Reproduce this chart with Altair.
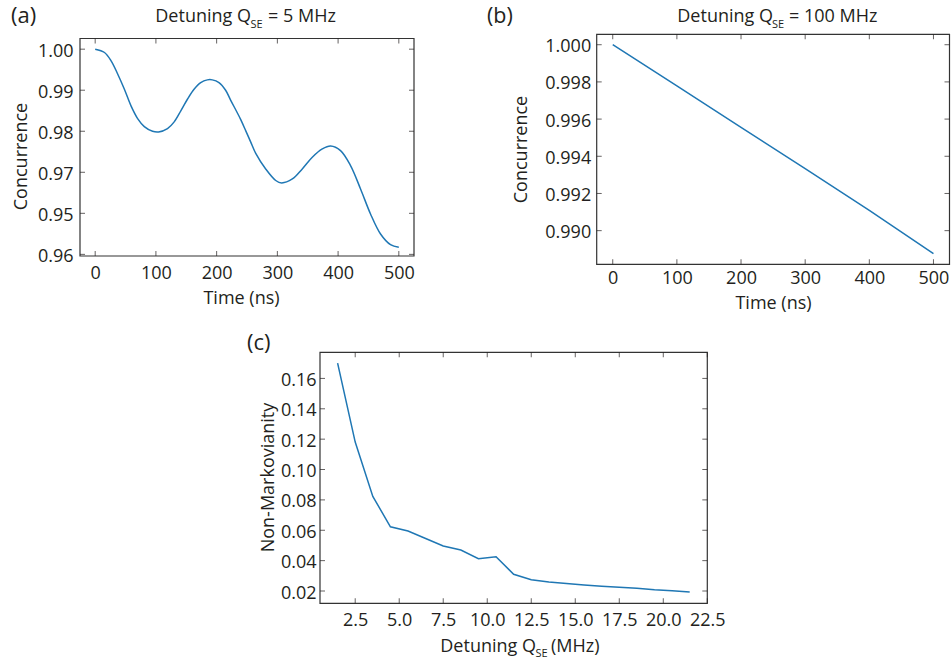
import altair as alt
import pandas as pd

# ---------------- data ----------------
# (a) Detuning Q_SE = 5 MHz
a_time = [0, 15.3, 26.2, 37.2, 48.1, 59.0, 69.9, 80.9, 94.5, 104.4,
          119.1, 130.1, 141.0, 151.9, 162.8, 173.8, 184.7, 192.9, 203.8, 214.8,
          223.0, 239.5, 248.0, 256.0, 264.4, 280.8, 297.3, 307.0, 324.7, 341.0,
          357.5, 374.0, 387.7, 404.0, 420.5, 437.0, 453.4, 469.9, 486.3, 500.0]
a_conc = [1.0, 0.99919, 0.99715, 0.99390, 0.99024, 0.98618, 0.98309, 0.98114, 0.98000, 0.97984,
          0.98065, 0.98228, 0.98496, 0.98780, 0.99024, 0.99187, 0.99252, 0.99252, 0.99187, 0.99000,
          0.98760, 0.98290, 0.98010, 0.97740, 0.97460, 0.97080, 0.96800, 0.96740, 0.96837, 0.97081,
          0.97366, 0.97569, 0.97642, 0.97528, 0.97163, 0.96593, 0.95984, 0.95496, 0.95236, 0.95171]
a_xticks = [0, 100, 200, 300, 400, 500]
a_yticks = [1.00, 0.99, 0.98, 0.97, 0.96, 0.95]
a_ylabels = ["1.00", "0.99", "0.98", "0.97", "0.95", "0.96"]

# (b) Detuning Q_SE = 100 MHz
b_time = [0, 100, 200, 300, 400, 500]
b_conc = [1.0, 0.99779, 0.99555, 0.99334, 0.99109, 0.98877]
b_xticks = [0, 100, 200, 300, 400, 500]
b_yticks = [1.000, 0.998, 0.996, 0.994, 0.992, 0.990]

# (c) Non-Markovianity vs detuning
c_det = [1.5, 2.5, 3.5, 4.5, 5.5, 6.5, 7.5, 8.5, 9.5, 10.5, 11.5, 12.5, 13.5,
         14.5, 15.5, 16.5, 17.5, 18.5, 19.5, 20.5, 21.5]
c_nm = [0.1701, 0.1181, 0.0823, 0.0623, 0.0595, 0.0546, 0.0496, 0.0470, 0.0413,
        0.0426, 0.0310, 0.0274, 0.0260, 0.0250, 0.0240, 0.0232, 0.0225, 0.0218,
        0.0208, 0.0201, 0.0194]
c_xticks = [2.5, 5.0, 7.5, 10.0, 12.5, 15.0, 17.5, 20.0, 22.5]
c_yticks = [0.02, 0.04, 0.06, 0.08, 0.10, 0.12, 0.14, 0.16]

# ---------------- style ----------------
W, H = 951, 663
INK = "#231f20"
FRAME = "#333333"
BLUE = "#1f77b4"
FONT = "Open Sans"
TICK = 5


def xaxis(bottom, values, fmt, pad, title, tx=0, ty=0):
    kw = dict(orient="bottom", offset=-(H - bottom), values=values, format=fmt,
              labelPadding=pad, labelBaseline="alphabetic", ticks=False,
              domain=False, grid=False, labelFlush=False, labelOverlap=False, title=title,
              labelFont=FONT, labelFontSize=18, labelColor=INK,
              titleFont=FONT, titleFontSize=18, titleColor=INK, titleFontWeight="normal")
    if title:
        kw.update(titleX=tx, titleY=ty, titleBaseline="alphabetic", titleAlign="center", titleAngle=0)
    return alt.Axis(**kw)


def yaxis(left, values, pad, title, tx, ty, fmt=None, expr=None):
    kw = dict(orient="left", offset=-left, values=values, labelPadding=pad,
              labelBaseline="alphabetic", labelOffset=7, ticks=False,
              domain=False, grid=False, labelFlush=False, labelOverlap=False,
              labelFont=FONT, labelFontSize=18, labelColor=INK,
              titleFont=FONT, titleFontSize=18, titleColor=INK, titleFontWeight="normal",
              title=title, titleX=tx, titleY=ty, titleBaseline="alphabetic",
              titleAlign="center", titleAngle=270)
    if fmt:
        kw["format"] = fmt
    if expr:
        kw["labelExpr"] = expr
    return alt.Axis(**kw)


def panel(xv, yv, xdom, ydom, box, xticks, yticks, xax, yax, interp):
    left, right, top, bottom = box

    def xs():
        return alt.Scale(domain=xdom, range=[left, right], nice=False, zero=False)

    def ys():
        return alt.Scale(domain=ydom, range=[bottom, top], nice=False, zero=False)

    df = pd.DataFrame({"x": xv, "y": yv})
    line = alt.Chart(df).mark_line(color=BLUE, strokeWidth=1.5, interpolate=interp).encode(
        x=alt.X("x:Q", scale=xs(), axis=xax),
        y=alt.Y("y:Q", scale=ys(), axis=yax),
    )
    frame = alt.Chart(alt.Data(values=[{}])).mark_rect(
        fillOpacity=0, stroke=FRAME, strokeWidth=1.2
    ).encode(
        x=alt.XDatum(xdom[0], scale=xs(), axis=None), x2=alt.X2Datum(xdom[1]),
        y=alt.YDatum(ydom[0], scale=ys(), axis=None), y2=alt.Y2Datum(ydom[1]),
    )
    xt = pd.DataFrame({"v": xticks})
    yt = pd.DataFrame({"v": yticks})
    tk = dict(color=INK, thickness=1, size=TICK)
    t_bottom = alt.Chart(xt).mark_tick(orient="vertical", yOffset=-TICK / 2, **tk).encode(
        x=alt.X("v:Q", scale=xs(), axis=None), y=alt.YDatum(ydom[0], scale=ys(), axis=None))
    t_top = alt.Chart(xt).mark_tick(orient="vertical", yOffset=TICK / 2, **tk).encode(
        x=alt.X("v:Q", scale=xs(), axis=None), y=alt.YDatum(ydom[1], scale=ys(), axis=None))
    t_left = alt.Chart(yt).mark_tick(orient="horizontal", xOffset=TICK / 2, **tk).encode(
        y=alt.Y("v:Q", scale=ys(), axis=None), x=alt.XDatum(xdom[0], scale=xs(), axis=None))
    t_right = alt.Chart(yt).mark_tick(orient="horizontal", xOffset=-TICK / 2, **tk).encode(
        y=alt.Y("v:Q", scale=ys(), axis=None), x=alt.XDatum(xdom[1], scale=xs(), axis=None))
    return [line, frame, t_bottom, t_top, t_left, t_right]


a_expr = " : ".join(
    f"abs(datum.value - {v}) < 1e-6 ? '{l}'" for v, l in zip(a_yticks, a_ylabels)
) + " : ''"

pa = panel(a_time, a_conc, [-25, 525], [0.9496, 1.0026], (80, 414, 38.5, 256),
           a_xticks, a_yticks,
           xaxis(256, a_xticks, "d", 22, "Time (ns)", 241, 47),
           yaxis(80, a_yticks, 7, "Concurrence", -54, 156, expr=a_expr),
           "catmull-rom")

pb = panel(b_time, b_conc, [-25, 525], [0.98819, 1.00056], (596.7, 949.5, 34.3, 264.3),
           b_xticks, b_yticks,
           xaxis(264.3, b_xticks, "d", 19, "Time (ns)", 773, 44),
           yaxis(596.7, b_yticks, 6, "Concurrence", -70, 149, fmt=".3f"),
           "linear")

pc = panel(c_det, c_nm, [0.5, 22.5], [0.0119, 0.1772], (320, 707.3, 352.3, 603.3),
           c_xticks, c_yticks,
           xaxis(603.3, c_xticks, ".1f", 22, ""),
           yaxis(320, c_yticks, 4, "Non-Markovianity", -47, 477, fmt=".2f"),
           "linear")


def txt(s, x, y, size=18, align="left"):
    return alt.Chart(alt.Data(values=[{}])).mark_text(
        text=s, font=FONT, fontSize=size, color=INK, align=align, baseline="alphabetic"
    ).encode(x=alt.value(x), y=alt.value(y))


texts = [
    txt("(a)", 11, 23, size=22),
    txt("(b)", 487, 22.5, size=21.5),
    txt("(c)", 247, 350, size=22),
    # title (a)
    txt("Detuning Q", 251, 21.7, align="right"),
    txt("SE", 250.5, 28.3, size=11),
    txt("= 5 MHz", 268, 21.7),
    # title (b)
    txt("Detuning Q", 773, 21.7, align="right"),
    txt("SE", 772, 28.3, size=11),
    txt("= 100 MHz", 789, 21.7),
    # x title (c)
    txt("Detuning Q", 536, 651.7, align="right"),
    txt("SE", 535.5, 657.3, size=11),
    txt("(MHz)", 551, 651.7),
]

chart = alt.layer(*pa, *pb, *pc, *texts).resolve_scale(
    x="independent", y="independent"
).properties(
    width=W, height=H, padding=0, autosize=alt.AutoSizeParams(type="none")
).configure_view(
    stroke="transparent"
)

chart.save("out.html", embed_options={"renderer": "svg", "actions": False})
